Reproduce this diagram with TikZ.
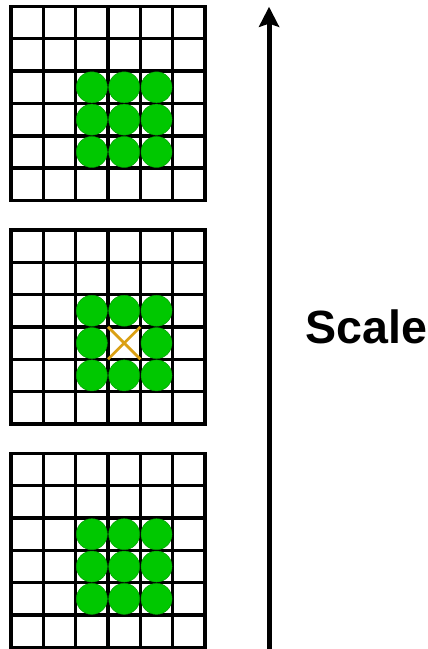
\documentclass[tikz,border=0pt]{standalone}
\usepackage{fontspec}
\setmainfont{Liberation Sans}
\usetikzlibrary{arrows.meta}
\definecolor{dotgreen}{RGB}{0,200,0}
\definecolor{dotedge}{RGB}{0,150,0}
\definecolor{crossorange}{RGB}{218,160,20}
\begin{document}
\begin{tikzpicture}[
            cellgrid/.style={draw=black, line width=3pt, line cap=rect, step=1},
            dot/.style={circle, fill=dotgreen, draw=dotedge, line width=0.4pt, minimum size=0.96cm, inner sep=0pt},
            cross/.style={draw=crossorange, line width=2.4pt},
            scalearrow/.style={-{Stealth[length=6.2mm, width=6.2mm, inset=1mm]}, line width=4.4pt},
            label/.style={font=\fontsize{41}{48}\selectfont\bfseries},
        ]
            \useasboundingbox (0,0) rectangle (13.21,20.07);

            % Three grids, top to bottom
            \foreach \g/\yb in {1/13.87, 2/6.96, 3/0.05} {
                \draw[cellgrid, shift={(0.34,\yb)}] (0,0) grid (6,6);
                % 3x3 block of dots, centre left empty in grid 2
                \foreach \i in {2,3,4} {
                    \foreach \j in {1,2,3} {
                        \ifnum\g\i\j=232 \else
                            \node[dot] (g\g-\i-\j) at (0.34+\i+0.5, \yb+\j+0.5) {};
                        \fi
                    }
                }
            }

            % Empty centre cell of the middle grid
            \coordinate (cellsw) at (3.34, 8.96);
            \coordinate (cellne) at (4.34, 9.96);
            \coordinate (cellnw) at (3.34, 9.96);
            \coordinate (cellse) at (4.34, 8.96);
            \draw[cross] (cellsw) -- (cellne);
            \draw[cross] (cellnw) -- (cellse);

            % Scale axis
            \coordinate (arrowfoot) at (8.32, 0);
            \coordinate (arrowtip) at (8.32, 19.86);
            \draw[scalearrow] (arrowfoot) -- (arrowtip);
            \node[label] (scale) at (11.32, 9.96) {Scale};
        \end{tikzpicture}
\end{document}
